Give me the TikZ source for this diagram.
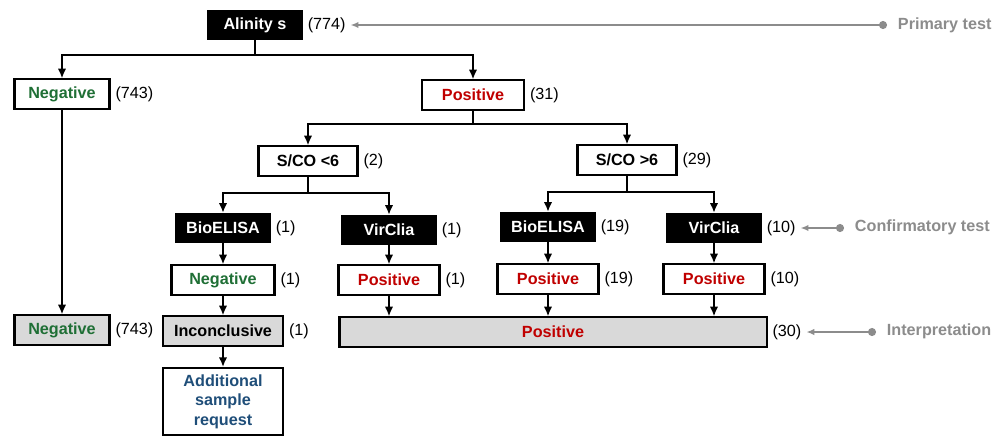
\documentclass[tikz,border=0pt]{standalone}
\usepackage{fontspec}
\setmainfont{Liberation Sans}
\usetikzlibrary{arrows.meta, positioning}

\definecolor{negGreen}{HTML}{1F6F35}
\definecolor{posRed}{HTML}{C00000}
\definecolor{reqBlue}{HTML}{1F4E79}
\definecolor{annGray}{HTML}{8C8C8C}
\definecolor{resGray}{HTML}{D9D9D9}

\begin{document}
\begin{tikzpicture}[
  x=0.025cm, y=-0.025cm,
  every node/.style={font=\fontsize{11.5}{13}\selectfont},
  blk/.style={fill=black, text=white, font=\fontsize{11.5}{13}\selectfont\bfseries, minimum width=2.375cm, minimum height=0.75cm, inner sep=0pt},
  wbox/.style={draw, line width=1.5pt, fill=white, font=\fontsize{11.5}{13}\selectfont\bfseries, minimum height=0.73cm, inner sep=0pt, align=center},
  gbox/.style={wbox, fill=resGray},
  cnt/.style={anchor=west},
  arr/.style={-{Latex[length=2.4mm, width=2.1mm]}, line width=1.2pt},
  ann/.style={{Latex[length=2mm, width=1.6mm]}-{Circle[length=2mm]}, line width=1.2pt, annGray, shorten >=0.15cm},
  annlbl/.style={anchor=west, text=annGray, font=\fontsize{11.5}{13}\selectfont\bfseries}
]
  \useasboundingbox (0,0) rectangle (1008,437);

  % primary test
  \node[blk] (alin) at (255,25) {Alinity s};
  \node[cnt] (c774) at (alin.east) {(774)};
  \node[wbox, minimum width=2.375cm, text=negGreen] (neg1) at (62,94) {Negative};
  \node[cnt] (c743a) at (neg1.east) {(743)};
  \node[wbox, minimum width=2.55cm, text=posRed] (pos1) at (473,95) {Positive};
  \node[cnt] (c31) at (pos1.east) {(31)};

  % S/CO split
  \node[wbox, minimum width=2.475cm] (scoLo) at (308,161) {S/CO <6};
  \node[cnt] (c2) at (scoLo.east) {(2)};
  \node[wbox, minimum width=2.475cm] (scoHi) at (627,160) {S/CO >6};
  \node[cnt] (c29) at (scoHi.east) {(29)};

  % confirmatory tests
  \node[blk] (bioA) at (223,228) {BioELISA};
  \node[cnt] (c1a) at (bioA.east) {(1)};
  \node[blk] (virA) at (389,230) {VirClia};
  \node[cnt] (c1b) at (virA.east) {(1)};
  \node[blk] (bioB) at (548,227) {BioELISA};
  \node[cnt] (c19a) at (bioB.east) {(19)};
  \node[blk] (virB) at (714,228) {VirClia};
  \node[cnt] (c10a) at (virB.east) {(10)};

  % results
  \node[wbox, minimum width=2.575cm, text=negGreen] (negM) at (223,280) {Negative};
  \node[cnt] (c1c) at (negM.east) {(1)};
  \node[wbox, minimum width=2.525cm, text=posRed] (posM1) at (389,280) {Positive};
  \node[cnt] (c1d) at (posM1.east) {(1)};
  \node[wbox, minimum width=2.525cm, text=posRed] (posM2) at (548,279) {Positive};
  \node[cnt] (c19b) at (posM2.east) {(19)};
  \node[wbox, minimum width=2.525cm, text=posRed] (posM3) at (714,279) {Positive};
  \node[cnt] (c10b) at (posM3.east) {(10)};

  % interpretation
  \node[gbox, minimum width=2.375cm, text=negGreen] (negF) at (62,330) {Negative};
  \node[cnt] (c743b) at (negF.east) {(743)};
  \node[gbox, minimum width=3cm] (incl) at (223,331) {Inconclusive};
  \node[cnt] (c1e) at (incl.east) {(1)};
  \node[gbox, minimum width=10.675cm, text=posRed] (posF) at (553,332) {Positive};
  \node[cnt] (c30) at (posF.east) {(30)};
  \node[wbox, minimum width=3cm, minimum height=1.675cm, text=reqBlue,
        font=\fontsize{11.5}{14}\selectfont\bfseries] (addReq) at (223,401.5) {Additional\\sample\\request};

  % side labels
  \node[annlbl] (lPrim) at (893,25) {Primary test};
  \node[annlbl] (lConf) at (850,227) {Confirmatory test};
  \node[annlbl] (lInt) at (882,331) {Interpretation};

  % connectors
  \draw[arr] (alin.south) -- ++(0,15) -| (neg1.north);
  \draw[arr] (alin.south) -- ++(0,15) -| (pos1.north);
  \draw[arr] (pos1.south) -- ++(0,13) -| (scoLo.north);
  \draw[arr] (pos1.south) -- ++(0,13) -| (scoHi.north);
  \draw[arr] (scoLo.south) -- ++(0,16) -| (bioA.north);
  \draw[arr] (scoLo.south) -- ++(0,16) -| (virA.north);
  \draw[arr] (scoHi.south) -- ++(0,16) -| (bioB.north);
  \draw[arr] (scoHi.south) -- ++(0,16) -| (virB.north);
  \draw[arr] (bioA) -- (negM);
  \draw[arr] (virA) -- (posM1);
  \draw[arr] (bioB) -- (posM2);
  \draw[arr] (virB) -- (posM3);
  \draw[arr] (neg1) -- (negF);
  \draw[arr] (negM) -- (incl);
  \draw[arr] (incl) -- (addReq);
  \draw[arr] (posM1.south) -- (posM1.south |- posF.north);
  \draw[arr] (posM2.south) -- (posM2.south |- posF.north);
  \draw[arr] (posM3.south) -- (posM3.south |- posF.north);

  \draw[ann] (c774.east) -- (c774.east -| lPrim.west);
  \draw[ann] (c10a.east) -- (c10a.east -| lConf.west);
  \draw[ann] (c30.east) -- (c30.east -| lInt.west);
\end{tikzpicture}
\end{document}
